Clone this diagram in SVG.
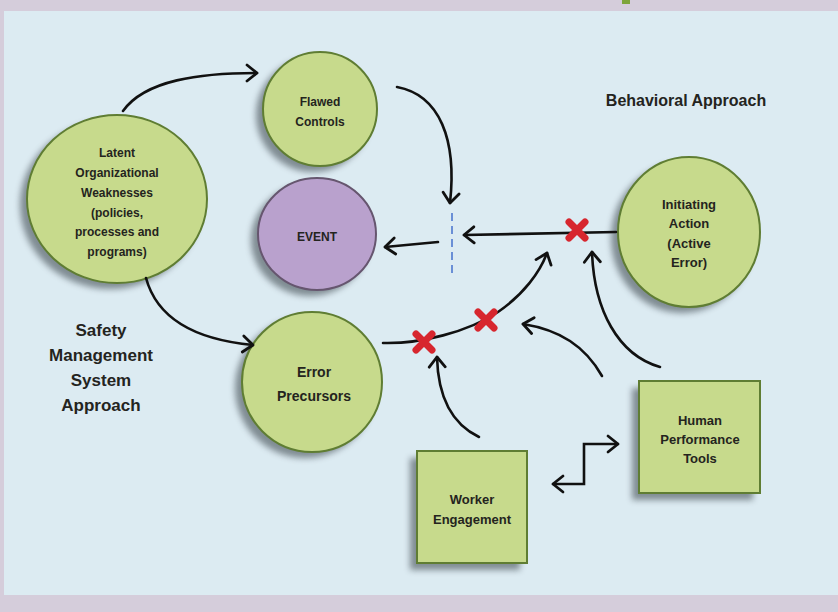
<svg xmlns="http://www.w3.org/2000/svg" width="838" height="612" viewBox="0 0 838 612">
<defs>
<style>
.node{fill:#c7da8c;stroke:#5f7d33;stroke-width:2}
.event{fill:#b9a1cd;stroke:#66566f;stroke-width:2}
.shadow{fill:#6f7c82;opacity:0.85;filter:url(#blur)}
.t{font-family:"Liberation Sans",Arial,sans-serif;font-weight:bold;fill:#24241e;text-anchor:middle}
.conn{fill:none;stroke:#111;stroke-width:2.6;stroke-linecap:round}
.x{stroke:#d7262e;stroke-width:7;stroke-linecap:round}
</style>
<filter id="blur" x="-20%" y="-20%" width="140%" height="140%"><feGaussianBlur stdDeviation="3"/></filter>
<marker id="ah" markerUnits="userSpaceOnUse" markerWidth="20" markerHeight="20" refX="12" refY="10" orient="auto-start-reverse" viewBox="0 0 20 20">
<path d="M2,2 L12,10 L2,18" fill="none" stroke="#111" stroke-width="2.8" stroke-linecap="round" stroke-linejoin="round"/>
</marker>
</defs>
<rect x="0" y="0" width="838" height="612" fill="#d5cddb"/>
<rect x="4" y="11" width="834" height="584" fill="#dcebf2"/>
<rect x="622" y="0" width="8" height="4" fill="#7ea53a"/>

<text class="t" x="686" y="106" font-size="16">Behavioral Approach</text>
<g class="t" font-size="17">
<text class="t" x="101" y="336">Safety</text>
<text class="t" x="101" y="361">Management</text>
<text class="t" x="101" y="386">System</text>
<text class="t" x="101" y="411">Approach</text>
</g>

<g id="latent">
<ellipse class="shadow" cx="110" cy="205" rx="90" ry="84"/>
<ellipse class="node" cx="117" cy="199" rx="90" ry="84"/>
<text class="t" font-size="12"><tspan x="117" y="157">Latent</tspan><tspan x="117" y="177">Organizational</tspan><tspan x="117" y="197">Weaknesses</tspan><tspan x="117" y="217">(policies,</tspan><tspan x="117" y="236">processes and</tspan><tspan x="117" y="256">programs)</tspan></text>
</g>
<g id="flawed">
<ellipse class="shadow" cx="313" cy="115" rx="57" ry="57"/>
<ellipse class="node" cx="320" cy="109" rx="57" ry="57"/>
<text class="t" font-size="12"><tspan x="320" y="106">Flawed</tspan><tspan x="320" y="126">Controls</tspan></text>
</g>
<g id="event">
<ellipse class="shadow" cx="310" cy="240" rx="59" ry="56"/>
<ellipse class="event" cx="317" cy="234" rx="59" ry="56"/>
<text class="t" font-size="12" x="317" y="241">EVENT</text>
</g>
<g id="precursors">
<ellipse class="shadow" cx="305" cy="388" rx="70" ry="70"/>
<ellipse class="node" cx="312" cy="382" rx="70" ry="70"/>
<text class="t" font-size="14"><tspan x="314" y="377">Error</tspan><tspan x="314" y="401">Precursors</tspan></text>
</g>
<g id="initiating">
<ellipse class="shadow" cx="682" cy="238" rx="71" ry="75"/>
<ellipse class="node" cx="689" cy="232" rx="71" ry="75"/>
<text class="t" font-size="13"><tspan x="689" y="209">Initiating</tspan><tspan x="689" y="228">Action</tspan><tspan x="689" y="248">(Active</tspan><tspan x="689" y="267">Error)</tspan></text>
</g>
<g id="hpt">
<rect class="shadow" x="632" y="388" width="121" height="112"/>
<rect class="node" x="639" y="381" width="121" height="112"/>
<text class="t" font-size="13"><tspan x="700" y="425">Human</tspan><tspan x="700" y="444">Performance</tspan><tspan x="700" y="463">Tools</tspan></text>
</g>
<g id="worker">
<rect class="shadow" x="410" y="458" width="110" height="112"/>
<rect class="node" x="417" y="451" width="110" height="112"/>
<text class="t" font-size="13"><tspan x="472" y="504">Worker</tspan><tspan x="472" y="524">Engagement</tspan></text>
</g>

<g id="connectors">
<path class="conn" d="M123,111 C145,80 200,73 257,73" marker-end="url(#ah)"/>
<path class="conn" d="M397,87 C440,95 457,140 450,203" marker-end="url(#ah)"/>
<line x1="452" y1="213" x2="452" y2="276" stroke="#6a8fd6" stroke-width="2" stroke-dasharray="8,5"/>
<path class="conn" d="M438,242 L385,247" marker-end="url(#ah)"/>
<path class="conn" d="M616,232 L464,235" marker-end="url(#ah)"/>
<path class="conn" d="M146,278 C158,322 200,340 253,345" marker-end="url(#ah)"/>
<path class="conn" d="M383,343 C420,344 468,332 498,312 C524,294 540,272 547,253" marker-end="url(#ah)"/>
<path class="conn" d="M479,437 C452,424 438,398 437,357" marker-end="url(#ah)"/>
<path class="conn" d="M602,376 C585,346 560,330 523,324" marker-end="url(#ah)"/>
<path class="conn" d="M660,367 C618,355 594,310 592,252" marker-end="url(#ah)"/>
<path class="conn" d="M553,484 H584 V444 H618" marker-start="url(#ah)" marker-end="url(#ah)" stroke-linejoin="miter"/>
<g class="x">
<path d="M569,222 L585,238 M585,222 L569,238"/>
<path d="M416,334 L432,350 M432,334 L416,350"/>
<path d="M478,312 L494,328 M494,312 L478,328"/>
</g>
</g>
</svg>
